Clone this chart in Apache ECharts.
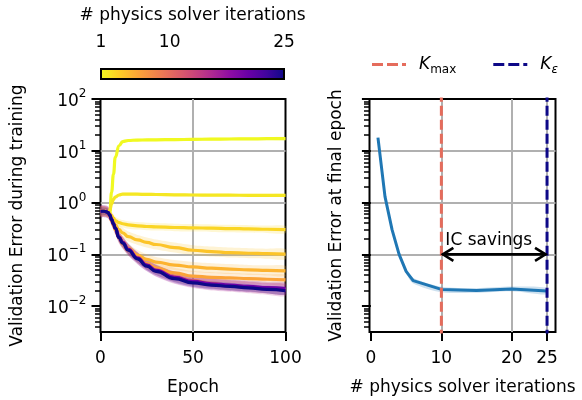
<!DOCTYPE html>
<html>
<head>
<meta charset="utf-8">
<script src="https://cdn.jsdelivr.net/npm/echarts@6.0.0/dist/echarts.min.js"></script>
<style>
html,body{margin:0;padding:0;background:#fff;}
#chart{width:582px;height:400px;}
</style>
</head>
<body>
<div id="chart"></div>
<script>
const FONT = 'DejaVu Sans';
const FS = 17;

// ---------------- data ----------------
const epochs = [0, 2, 4, 5, 6, 7, 8, 10, 12, 15, 20, 25, 30, 40, 50, 60, 70, 80, 90, 100];
const solverIters = [1, 2, 3, 4, 5, 6, 10, 15, 20, 25];
const errK1  = [0.68,0.68,0.66,0.62,1.6,3.5,7.5,12.5,15.0,15.8,16.1,16.2,16.3,16.4,16.6,16.8,16.9,17.0,17.1,17.2];
const errK2  = [0.68,0.68,0.66,0.70,0.95,1.15,1.28,1.40,1.45,1.46,1.45,1.44,1.43,1.41,1.40,1.39,1.39,1.38,1.38,1.38];
const errK3  = [0.68,0.68,0.66,0.62,0.56,0.50,0.45,0.41,0.39,0.37,0.355,0.345,0.34,0.33,0.325,0.32,0.315,0.31,0.305,0.30];
const errK4  = [0.68,0.68,0.65,0.58,0.50,0.43,0.37,0.30,0.26,0.22,0.19,0.17,0.155,0.135,0.12,0.113,0.108,0.105,0.103,0.101];
const errK5  = [0.68,0.68,0.64,0.56,0.46,0.38,0.31,0.22,0.17,0.13,0.097,0.08,0.071,0.062,0.057,0.054,0.052,0.050,0.049,0.048];
const errK6  = [0.68,0.68,0.64,0.55,0.45,0.37,0.30,0.21,0.16,0.12,0.085,0.066,0.055,0.044,0.038,0.036,0.035,0.034,0.033,0.032];
const errK10 = [0.68,0.68,0.65,0.57,0.47,0.39,0.32,0.22,0.172,0.127,0.087,0.063,0.050,0.037,0.031,0.0275,0.025,0.0235,0.022,0.021];
const errK15 = [0.68,0.68,0.65,0.57,0.47,0.39,0.32,0.213,0.168,0.123,0.084,0.061,0.048,0.035,0.029,0.026,0.0245,0.023,0.0215,0.0203];
const errK20 = [0.68,0.68,0.65,0.57,0.47,0.39,0.32,0.215,0.17,0.125,0.085,0.062,0.049,0.036,0.030,0.027,0.0255,0.024,0.0228,0.0218];
const errK25 = [0.68,0.68,0.65,0.57,0.47,0.39,0.32,0.21,0.165,0.12,0.082,0.059,0.047,0.034,0.028,0.0255,0.024,0.0225,0.021,0.0198];
const trainCurves = [errK1, errK2, errK3, errK4, errK5, errK6, errK10, errK15, errK20, errK25];
const trainSpread = [1.07, 1.07, 1.18, 1.25, 1.25, 1.25, 1.25, 1.3, 1.3, 1.18];

const finalErr    = [18.0, 1.3, 0.30, 0.10, 0.047, 0.031, 0.021, 0.020, 0.0215, 0.0195];
const finalSpread = [1.03, 1.04, 1.06, 1.08, 1.1, 1.13, 1.13, 1.11, 1.11, 1.16];

const K_MAX = 10, K_EPS = 25;
const savingsLevel = 0.1;
const cbTicks = [1, 10, 25];
const iterTicks = [0, 10, 20, 25];
const decadeTicks = [0.01, 0.1, 1, 10, 100];
const Y_MIN = Math.pow(10, -2.5), Y_MAX = 100;

// ---------------- colour map (plasma) ----------------
const plasmaStops = ['#0d0887','#41049d','#6a00a8','#8f0da4','#b12a90','#cc4778','#e16462','#f2844b','#fca636','#fcce25','#f0f921'];
function hex2rgb(h){return [parseInt(h.slice(1,3),16),parseInt(h.slice(3,5),16),parseInt(h.slice(5,7),16)];}
function plasma(t, a){
  t = Math.max(0, Math.min(1, t));
  const s = t*10, i = Math.min(9, Math.floor(s)), f = s - i;
  const c0 = hex2rgb(plasmaStops[i]), c1 = hex2rgb(plasmaStops[i+1]);
  const c = c0.map((v,j)=>Math.round(v + (c1[j]-v)*f));
  return a == null ? 'rgb('+c.join(',')+')' : 'rgba('+c.join(',')+','+a+')';
}
const kT = k => 1 - (k - 1) / 24;

const minorVals = [];
for (let e = -3; e <= 1; e++) { for (let m = 2; m <= 9; m++) { const v = m * Math.pow(10, e); if (v > Y_MIN && v < Y_MAX) { minorVals.push(v); } } }

function fmtPow(v){
  const l = Math.log10(v), e = Math.round(l);
  if (Math.abs(l - e) > 1e-6) return '';
  return '{b|10}{s|' + (e < 0 ? '\u2212' + (-e) : e) + '}';
}
const powRich = {
  b: {fontFamily: FONT, fontSize: FS, color: '#000', lineHeight: 22, verticalAlign: 'bottom'},
  s: {fontFamily: FONT, fontSize: 12, color: '#000', lineHeight: 14, verticalAlign: 'top'}
};

function bandSeries(xs, lo, hi, color, xi, yi){
  return {
    type: 'custom', xAxisIndex: xi, yAxisIndex: yi, z: 1, silent: true, clip: true,
    data: xs.map((x,i)=>[x, lo[i], hi[i]]),
    renderItem: (params, api) => {
      if (params.dataIndex !== 0) return null;
      const top = xs.map((x,i)=>api.coord([x, hi[i]]));
      const bot = xs.map((x,i)=>api.coord([x, lo[i]])).reverse();
      return {type: 'polygon', shape: {points: top.concat(bot), smooth: 0.25}, style: {fill: color}};
    }
  };
}

const series = [];
solverIters.forEach((k, idx) => {
  const v = trainCurves[idx], f = trainSpread[idx];
  series.push(bandSeries(epochs, v.map(x=>x/f), v.map(x=>x*f), plasma(kT(k), 0.2), 0, 0));
});
solverIters.forEach((k, idx) => {
  series.push({
    type: 'line', xAxisIndex: 0, yAxisIndex: 0, z: 2 + idx*0.01, silent: true,
    data: epochs.map((e,i)=>[e, trainCurves[idx][i]]),
    showSymbol: false, symbol: 'none', smooth: 0.5, smoothMonotone: 'x',
    lineStyle: {color: plasma(kT(k)), width: 3.2}
  });
});

// right panel
series.push({
  type: 'line', xAxisIndex: 1, yAxisIndex: 1, z: 1, silent: true, data: [],
  markLine: {z: 1, symbol: ['none','none'], silent: true, animation: false, label: {show: false},
    lineStyle: {color: '#b0b0b0', width: 2, type: 'solid'},
    data: iterTicks.slice(1).map(v=>({xAxis: v}))}
});
series.push(bandSeries(solverIters, finalErr.map((x,i)=>x/finalSpread[i]), finalErr.map((x,i)=>x*finalSpread[i]), 'rgba(31,119,180,0.22)', 1, 1));
series.push({
  type: 'line', xAxisIndex: 1, yAxisIndex: 1, z: 3, silent: true,
  data: solverIters.map((k,i)=>[k, finalErr[i]]),
  showSymbol: false, symbol: 'none', lineStyle: {color: '#1f77b4', width: 3}
});
series.push({
  name: 'Kmax', type: 'line', xAxisIndex: 1, yAxisIndex: 1, z: 4, silent: true,
  data: [[K_MAX, 1e-4], [K_MAX, 1e4]], showSymbol: false, symbol: 'none',
  lineStyle: {color: plasma(kT(K_MAX)), width: 3, type: [10, 4]}, itemStyle: {color: plasma(kT(K_MAX))}
});
series.push({
  name: 'Keps', type: 'line', xAxisIndex: 1, yAxisIndex: 1, z: 4, silent: true,
  data: [[K_EPS, 1e-4], [K_EPS, 1e4]], showSymbol: false, symbol: 'none',
  lineStyle: {color: plasma(kT(K_EPS)), width: 3, type: [10, 4]}, itemStyle: {color: plasma(kT(K_EPS))}
});
series.push({
  type: 'custom', xAxisIndex: 1, yAxisIndex: 1, z: 6, silent: true, clip: false,
  data: [[K_MAX, K_EPS, savingsLevel]],
  renderItem: (params, api) => {
    const a = api.coord([api.value(0), api.value(2)]), b = api.coord([api.value(1), api.value(2)]);
    const h = 12, w = 6.5, st = {stroke: '#000', lineWidth: 2.6, fill: null};
    return {type: 'group', children: [
      {type: 'line', shape: {x1: a[0]+1, y1: a[1], x2: b[0]-1, y2: b[1]}, style: st},
      {type: 'polyline', shape: {points: [[a[0]+h, a[1]-w], [a[0]+1.5, a[1]], [a[0]+h, a[1]+w]]}, style: st},
      {type: 'polyline', shape: {points: [[b[0]-h, b[1]-w], [b[0]-1.5, b[1]], [b[0]-h, b[1]+w]]}, style: st},
      {type: 'text', x: a[0]+4, y: a[1]-5, style: {text: 'IC savings', fontFamily: FONT, fontSize: FS, fill: '#000', align: 'left', verticalAlign: 'bottom'}}
    ]};
  }
});

// colorbar
series.push({
  type: 'custom', xAxisIndex: 2, yAxisIndex: 2, z: 3, silent: true, clip: false,
  data: [[cbTicks[0], cbTicks[cbTicks.length-1]]],
  renderItem: (params, api) => {
    const p0 = api.coord([api.value(0), 0]), p1 = api.coord([api.value(1), 1]);
    const stops = [];
    for (let i = 0; i <= 20; i++) stops.push({offset: i/20, color: plasma(1 - i/20)});
    return {type: 'rect', shape: {x: p0[0], y: p1[1], width: p1[0]-p0[0], height: p0[1]-p1[1]},
      style: {fill: new echarts.graphic.LinearGradient(0, 0, 1, 0, stops), stroke: '#000', lineWidth: 2}};
  }
});

const gridCommon = {show: true, borderColor: '#000', borderWidth: 2, backgroundColor: 'transparent', containLabel: false, outerBoundsMode: 'none'};
const splitCommon = {show: true, showMinLine: false, showMaxLine: false, lineStyle: {color: '#b0b0b0', width: 2}};
const tickCommon = {show: true, inside: false, length: 9, lineStyle: {color: '#000', width: 2}};
const labelText = {fontFamily: FONT, fontSize: FS, color: '#000'};
const dashIcon = 'path://M0,0H11V3H0Z M15,0H26V3H15Z M30,0H34V3H30Z';

// overlay log axes that only carry the minor ticks
function minorAxis(gi){
  return {type: 'log', logBase: 10, gridIndex: gi, position: 'left', offset: 0, min: Y_MIN, max: Y_MAX,
    axisLine: {show: false}, axisLabel: {show: false}, splitLine: {show: false}, minorTick: {show: false},
    axisTick: {show: true, inside: false, length: 5.5, customValues: minorVals, lineStyle: {color: '#000', width: 1.5}}};
}

const option = {
  animation: false,
  textStyle: {fontFamily: FONT},
  grid: [
    Object.assign({left: 100.5, top: 99, width: 185, height: 233}, gridCommon),
    Object.assign({left: 369.5, top: 99, width: 186, height: 233}, gridCommon),
    {left: 101, top: 69, width: 183, height: 10, show: false, containLabel: false, outerBoundsMode: 'none'}
  ],
  legend: {
    data: [{name: 'Kmax', icon: dashIcon}, {name: 'Keps', icon: dashIcon}],
    left: 367, top: 51, itemWidth: 34, itemHeight: 3, itemGap: 37,
    formatter: n => n === 'Kmax' ? '{k|K}{s|max}' : '{k|K}{e|\u03b5}',
    textStyle: {color: '#000', rich: {
      k: {fontFamily: FONT, fontSize: FS, fontStyle: 'italic', color: '#000', lineHeight: 22, padding: [0, 0, 0, 8]},
      s: {fontFamily: FONT, fontSize: 12, color: '#000', lineHeight: 12, verticalAlign: 'bottom'},
      e: {fontFamily: FONT, fontSize: 12, fontStyle: 'italic', color: '#000', lineHeight: 12, verticalAlign: 'bottom'}
    }}
  },
  xAxis: [
    {type: 'value', gridIndex: 0, min: 0, max: 100, interval: 50,
     axisLine: {show: false}, axisTick: tickCommon,
     axisLabel: Object.assign({margin: 18}, labelText), splitLine: splitCommon,
     name: 'Epoch', nameLocation: 'middle', nameGap: 47, nameTextStyle: labelText},
    {type: 'value', gridIndex: 1, min: -0.2, max: 26.2, interval: 5,
     axisLine: {show: false}, axisTick: Object.assign({customValues: iterTicks}, tickCommon),
     axisLabel: Object.assign({margin: 18, customValues: iterTicks}, labelText), splitLine: {show: false},
     name: '# physics solver iterations', nameLocation: 'middle', nameGap: 47, nameTextStyle: labelText},
    {type: 'value', gridIndex: 2, position: 'top', min: cbTicks[0], max: cbTicks[cbTicks.length-1],
     axisLine: {show: false}, axisTick: Object.assign({customValues: cbTicks}, tickCommon),
     axisLabel: Object.assign({margin: 18, customValues: cbTicks}, labelText), splitLine: {show: false},
     name: '# physics solver iterations', nameLocation: 'middle', nameGap: 45, nameTextStyle: labelText}
  ],
  yAxis: [
    {type: 'log', logBase: 10, gridIndex: 0, position: 'left', min: Y_MIN, max: Y_MAX,
     axisLine: {show: false}, axisTick: Object.assign({customValues: decadeTicks}, tickCommon),
     axisLabel: {margin: 14, customValues: decadeTicks, formatter: fmtPow, rich: powRich},
     splitLine: splitCommon, minorTick: {show: false},
     name: 'Validation Error during training', nameLocation: 'middle', nameGap: 74, nameTextStyle: labelText},
    {type: 'log', logBase: 10, gridIndex: 1, position: 'left', min: Y_MIN, max: Y_MAX,
     axisLine: {show: false}, axisTick: Object.assign({customValues: decadeTicks}, tickCommon),
     axisLabel: {show: false}, splitLine: splitCommon,
     name: 'Validation Error at final epoch', nameLocation: 'middle', nameGap: 24, nameTextStyle: labelText},
    {type: 'value', gridIndex: 2, min: 0, max: 1, show: false},
    minorAxis(0),
    minorAxis(1)
  ],
  series: series
};
const chart = echarts.init(document.getElementById('chart'), null, {renderer: 'canvas'});
chart.setOption(option);
</script>
</body>
</html>
